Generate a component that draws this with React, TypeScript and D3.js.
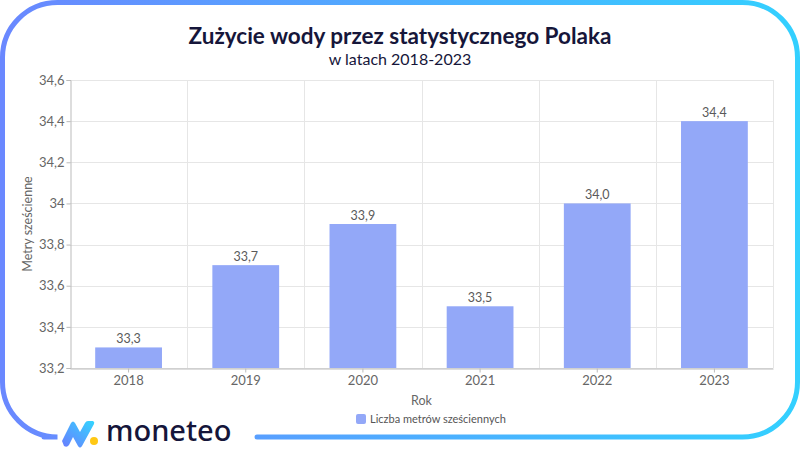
import React, { useEffect, useRef } from "react";
import * as d3 from "d3";

const years = ["2018", "2019", "2020", "2021", "2022", "2023"];
const values = [33.3, 33.7, 33.9, 33.5, 34.0, 34.4];
const valueLabels = ["33,3", "33,7", "33,9", "33,5", "34,0", "34,4"];
const yTicks = [33.2, 33.4, 33.6, 33.8, 34, 34.2, 34.4, 34.6];
const yTickLabels = ["33,2", "33,4", "33,6", "33,8", "34", "34,2", "34,4", "34,6"];

const FONT = "Lato, 'Noto Sans', sans-serif";

const App: React.FC = () => {
  const svgRef = useRef<SVGSVGElement>(null);

  useEffect(() => {
    if (!svgRef.current) return;
    const svg = d3.select(svgRef.current);
    svg.selectAll("*").remove();

    const width = 800;
    const height = 450;
    const margin = { top: 80, right: 27, bottom: 82, left: 70 };

    // frame gradient
    const defs = svg.append("defs");
    const grad = defs
      .append("linearGradient")
      .attr("id", "frameGrad")
      .attr("x1", "0%")
      .attr("x2", "100%")
      .attr("y1", "0%")
      .attr("y2", "0%");
    grad.append("stop").attr("offset", "0%").attr("stop-color", "#6a88ff");
    grad.append("stop").attr("offset", "100%").attr("stop-color", "#33d0ff");

    const iconGrad = defs
      .append("linearGradient")
      .attr("id", "iconGrad")
      .attr("x1", "0%")
      .attr("x2", "100%")
      .attr("y1", "100%")
      .attr("y2", "0%");
    iconGrad.append("stop").attr("offset", "0%").attr("stop-color", "#6a7cff");
    iconGrad.append("stop").attr("offset", "100%").attr("stop-color", "#33d6ff");

    // rounded frame with a gap at the bottom for the logo
    const fx0 = 2.5, fy0 = 2.5, fx1 = 797.5, fy1 = 437, r = 55;
    const framePath = d3.path();
    framePath.moveTo(44, fy1);
    framePath.lineTo(fx0 + r, fy1);
    framePath.arcTo(fx0, fy1, fx0, fy1 - r, r);
    framePath.lineTo(fx0, fy0 + r);
    framePath.arcTo(fx0, fy0, fx0 + r, fy0, r);
    framePath.lineTo(fx1 - r, fy0);
    framePath.arcTo(fx1, fy0, fx1, fy0 + r, r);
    framePath.lineTo(fx1, fy1 - r);
    framePath.arcTo(fx1, fy1, fx1 - r, fy1, r);
    framePath.lineTo(257, fy1);
    svg
      .append("path")
      .attr("d", framePath.toString())
      .attr("fill", "none")
      .attr("stroke", "url(#frameGrad)")
      .attr("stroke-width", 5)
      .attr("stroke-linecap", "round");

    const x = d3
      .scaleBand()
      .domain(years)
      .range([margin.left, width - margin.right])
      .paddingInner(0.43)
      .paddingOuter(0.215);

    const xOuter = d3
      .scaleBand()
      .domain(years)
      .range([margin.left, width - margin.right]);

    const y = d3
      .scaleLinear()
      .domain([33.2, 34.6])
      .range([height - margin.bottom, margin.top]);

    // grid
    svg
      .append("g")
      .selectAll("line")
      .data(yTicks)
      .enter()
      .append("line")
      .attr("x1", margin.left)
      .attr("x2", width - margin.right)
      .attr("y1", (d) => Math.round(y(d)) + 0.5)
      .attr("y2", (d) => Math.round(y(d)) + 0.5)
      .attr("stroke", "#e6e6e6");

    svg
      .append("g")
      .selectAll("line")
      .data(years)
      .enter()
      .append("line")
      .attr("x1", (d) => Math.round(xOuter(d)! + xOuter.bandwidth()) + 0.5)
      .attr("x2", (d) => Math.round(xOuter(d)! + xOuter.bandwidth()) + 0.5)
      .attr("y1", margin.top)
      .attr("y2", height - margin.bottom)
      .attr("stroke", "#e6e6e6");

    // bars
    svg
      .append("g")
      .selectAll("rect")
      .data(values)
      .enter()
      .append("rect")
      .attr("x", (d, i) => x(years[i])!)
      .attr("width", x.bandwidth())
      .attr("y", (d) => y(d))
      .attr("height", (d) => y(33.2) - y(d))
      .attr("fill", "#93a8f8");

    // value labels
    svg
      .append("g")
      .selectAll("text")
      .data(values)
      .enter()
      .append("text")
      .attr("x", (d, i) => x(years[i])! + x.bandwidth() / 2)
      .attr("y", (d) => y(d) - 4)
      .attr("text-anchor", "middle")
      .attr("font-family", FONT)
      .attr("font-size", 12.5)
      .attr("fill", "#5a5a5a")
      .text((d, i) => valueLabels[i]);

    // y axis
    const yAxis = svg
      .append("g")
      .attr("transform", `translate(${margin.left + 0.5}, 0)`)
      .call(
        d3
          .axisLeft(y)
          .tickValues(yTicks)
          .tickSize(4)
          .tickFormat((d, i) => yTickLabels[i])
      );
    yAxis.select(".domain").attr("stroke", "#bbb");
    yAxis.selectAll(".tick line").attr("stroke", "#bbb");
    yAxis
      .selectAll(".tick text")
      .attr("font-family", FONT)
      .attr("font-size", 13)
      .attr("fill", "#666")
      .attr("x", -6);

    // x axis
    const xAxis = svg
      .append("g")
      .attr("transform", `translate(0, ${height - margin.bottom + 0.5})`)
      .call(d3.axisBottom(xOuter).tickSize(4).tickSizeOuter(0));
    xAxis.select(".domain").attr("stroke", "#bbb");
    xAxis.selectAll(".tick line").attr("stroke", "#bbb");
    xAxis
      .selectAll(".tick text")
      .attr("font-family", FONT)
      .attr("font-size", 13)
      .attr("fill", "#666")
      .attr("y", 7);

    // title
    svg
      .append("text")
      .attr("x", width / 2)
      .attr("y", 44)
      .attr("text-anchor", "middle")
      .attr("font-family", FONT)
      .attr("font-weight", "bold")
      .attr("font-size", 22.5)
      .attr("fill", "#16163a")
      .text("Zużycie wody przez statystycznego Polaka");

    svg
      .append("text")
      .attr("x", width / 2)
      .attr("y", 65)
      .attr("text-anchor", "middle")
      .attr("font-family", FONT)
      .attr("font-size", 16)
      .attr("fill", "#16163a")
      .text("w latach 2018-2023");

    // axis titles
    svg
      .append("text")
      .attr("transform", `translate(32, ${(margin.top + height - margin.bottom) / 2}) rotate(-90)`)
      .attr("text-anchor", "middle")
      .attr("font-family", FONT)
      .attr("font-size", 12.5)
      .attr("fill", "#666")
      .text("Metry sześcienne");

    svg
      .append("text")
      .attr("x", (margin.left + width - margin.right) / 2)
      .attr("y", 405)
      .attr("text-anchor", "middle")
      .attr("font-family", FONT)
      .attr("font-size", 12.5)
      .attr("fill", "#666")
      .text("Rok");

    // legend
    const legend = svg.append("g").attr("transform", "translate(356, 414)");
    legend
      .append("rect")
      .attr("width", 10)
      .attr("height", 10)
      .attr("rx", 2)
      .attr("fill", "#93a8f8");
    legend
      .append("text")
      .attr("x", 14)
      .attr("y", 9)
      .attr("font-family", FONT)
      .attr("font-size", 11)
      .attr("fill", "#555")
      .text("Liczba metrów sześciennych");

    // logo
    const logo = svg.append("g");
    logo
      .append("path")
      .attr(
        "d",
        "M62,441 L71,423 Q73,420 75,423 L80,432 L85,423 Q86,421 88,421 L93,421 Q95,422 94,424 L82,446 Q80,449 78,446 L73,437 L69,445 Q67,448 64,446 Z"
      )
      .attr("fill", "url(#iconGrad)");
    logo.append("circle").attr("cx", 94).attr("cy", 441).attr("r", 4).attr("fill", "#ffc814");
    logo
      .append("text")
      .attr("x", 106)
      .attr("y", 441)
      .attr("font-family", "'Noto Sans', sans-serif")
      .attr("font-weight", 500)
      .attr("font-size", 29)
      .attr("fill", "#15153a")
      .text("moneteo");
  }, []);

  return (
    <svg
      ref={svgRef}
      width={800}
      height={450}
      style={{ position: "fixed", left: 0, top: 0, background: "#fff" }}
    ></svg>
  );
};

export default App;
